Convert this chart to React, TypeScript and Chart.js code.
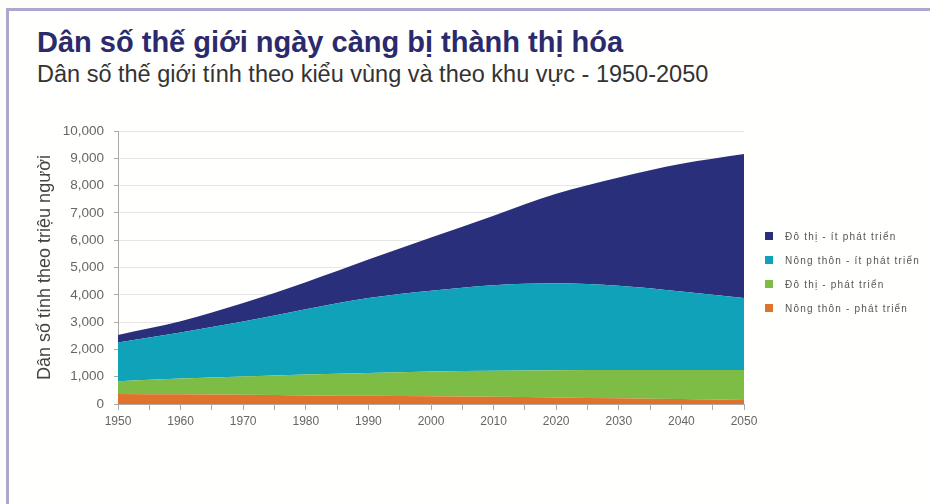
import React, { useEffect, useRef } from "react";
import { Chart, registerables } from "chart.js";

Chart.register(...registerables);

const years = [1950, 1960, 1970, 1980, 1990, 2000, 2010, 2020, 2030, 2040, 2050];
// millions of people
const ruralDeveloped = [370, 355, 335, 315, 300, 285, 265, 240, 210, 180, 150];
const urbanDeveloped = [460, 575, 675, 765, 840, 905, 955, 1000, 1040, 1070, 1100];
const ruralLessDeveloped = [1420, 1690, 2010, 2390, 2740, 2960, 3130, 3180, 3080, 2870, 2630];
const urbanLessDeveloped = [280, 410, 680, 990, 1410, 1950, 2550, 3280, 3970, 4680, 5280];

const seriesLabels = [
  "Nông thôn - phát triển",
  "Đô thị - phát triển",
  "Nông thôn - ít phát triển",
  "Đô thị - ít phát triển",
];
const seriesColors = ["#e0722c", "#7dbd45", "#0fa2b8", "#2a2f7c"];
const seriesValues = [ruralDeveloped, urbanDeveloped, ruralLessDeveloped, urbanLessDeveloped];

const title = "Dân số thế giới ngày càng bị thành thị hóa";
const subtitle = "Dân số thế giới tính theo kiểu vùng và theo khu vực - 1950-2050";
const yAxisTitle = "Dân số tính theo triệu người";

const FONT = "'Liberation Sans', Arial, sans-serif";

export default function App() {
  const ref = useRef<HTMLCanvasElement | null>(null);

  useEffect(() => {
    if (!ref.current) return;
    const chart = new Chart(ref.current, {
      type: "line",
      data: {
        datasets: seriesValues.map((vals, i) => ({
          label: seriesLabels[i],
          data: vals.map((v, j) => ({ x: years[j], y: v })),
          backgroundColor: seriesColors[i],
          borderColor: seriesColors[i],
          borderWidth: 0,
          pointRadius: 0,
          fill: i === 0 ? "origin" : "-1",
          tension: 0.4,
          cubicInterpolationMode: "monotone" as const,
        })),
      },
      options: {
        animation: false,
        responsive: false,
        devicePixelRatio: 1,
        layout: { padding: { left: 30, top: 131, right: 186, bottom: 70 } },
        plugins: {
          legend: { display: false },
          tooltip: { enabled: false },
        },
        scales: {
          x: {
            type: "linear",
            min: 1950,
            max: 2050,
            afterFit: (s: any) => {
              s.height = 30;
            },
            ticks: {
              stepSize: 5,
              autoSkip: false,
              maxRotation: 0,
              padding: 4,
              color: "#666",
              font: { family: FONT, size: 12 },
              callback: (v: any) => (Number(v) % 10 === 0 ? String(v) : ""),
            },
            grid: {
              drawOnChartArea: false,
              drawTicks: true,
              tickLength: 6,
              color: "#aaa",
            },
            border: { color: "#aaa", width: 1 },
          },
          y: {
            stacked: true,
            min: 0,
            max: 10000,
            afterFit: (s: any) => {
              s.width = 88;
            },
            ticks: {
              stepSize: 1000,
              padding: 10,
              color: "#666",
              font: { family: FONT, size: 13.5 },
              callback: (v: any) => Number(v).toLocaleString("en-US"),
            },
            grid: {
              color: "#e6e6e6",
              tickLength: 4,
              tickColor: "#aaa",
            },
            border: { color: "#aaa", width: 1 },
            title: {
              display: true,
              text: yAxisTitle,
              color: "#444",
              font: { family: FONT, size: 18 },
              padding: { top: 4, bottom: 4 },
            },
          },
        },
      },
    });
    return () => chart.destroy();
  }, []);

  const legendOrder = [3, 2, 1, 0];

  return (
    <div
      style={{
        position: "fixed",
        left: 0,
        top: 0,
        width: 930,
        height: 504,
        background: "#fdfdfa",
        overflow: "hidden",
        fontFamily: FONT,
      }}
    >
      <div
        style={{
          position: "absolute",
          left: 6,
          top: 8,
          width: 940,
          height: 510,
          borderTop: "3px solid #aaa8cc",
          borderLeft: "3px solid #aaa8cc",
          background: "#fffffd",
          boxSizing: "border-box",
        }}
      />
      <div
        style={{
          position: "absolute",
          left: 37,
          top: 25,
          fontSize: 29,
          fontWeight: "bold",
          color: "#2b2a6c",
          whiteSpace: "nowrap",
          lineHeight: "34px",
        }}
      >
        {title}
      </div>
      <div
        style={{
          position: "absolute",
          left: 37,
          top: 61,
          fontSize: 23.5,
          color: "#333",
          whiteSpace: "nowrap",
          lineHeight: "27px",
        }}
      >
        {subtitle}
      </div>
      <canvas
        ref={ref}
        width={930}
        height={504}
        style={{ position: "absolute", left: 0, top: 0, width: 930, height: 504 }}
      />
      {legendOrder.map((idx, k) => (
        <div
          key={idx}
          style={{
            position: "absolute",
            left: 765,
            top: 230 + k * 24,
            height: 12,
            display: "flex",
            alignItems: "center",
            whiteSpace: "nowrap",
          }}
        >
          <span
            style={{
              display: "inline-block",
              width: 8,
              height: 8,
              background: seriesColors[idx],
              marginRight: 12,
            }}
          />
          <span style={{ fontSize: 10, letterSpacing: 1.2, color: "#555" }}>
            {seriesLabels[idx]}
          </span>
        </div>
      ))}
    </div>
  );
}
